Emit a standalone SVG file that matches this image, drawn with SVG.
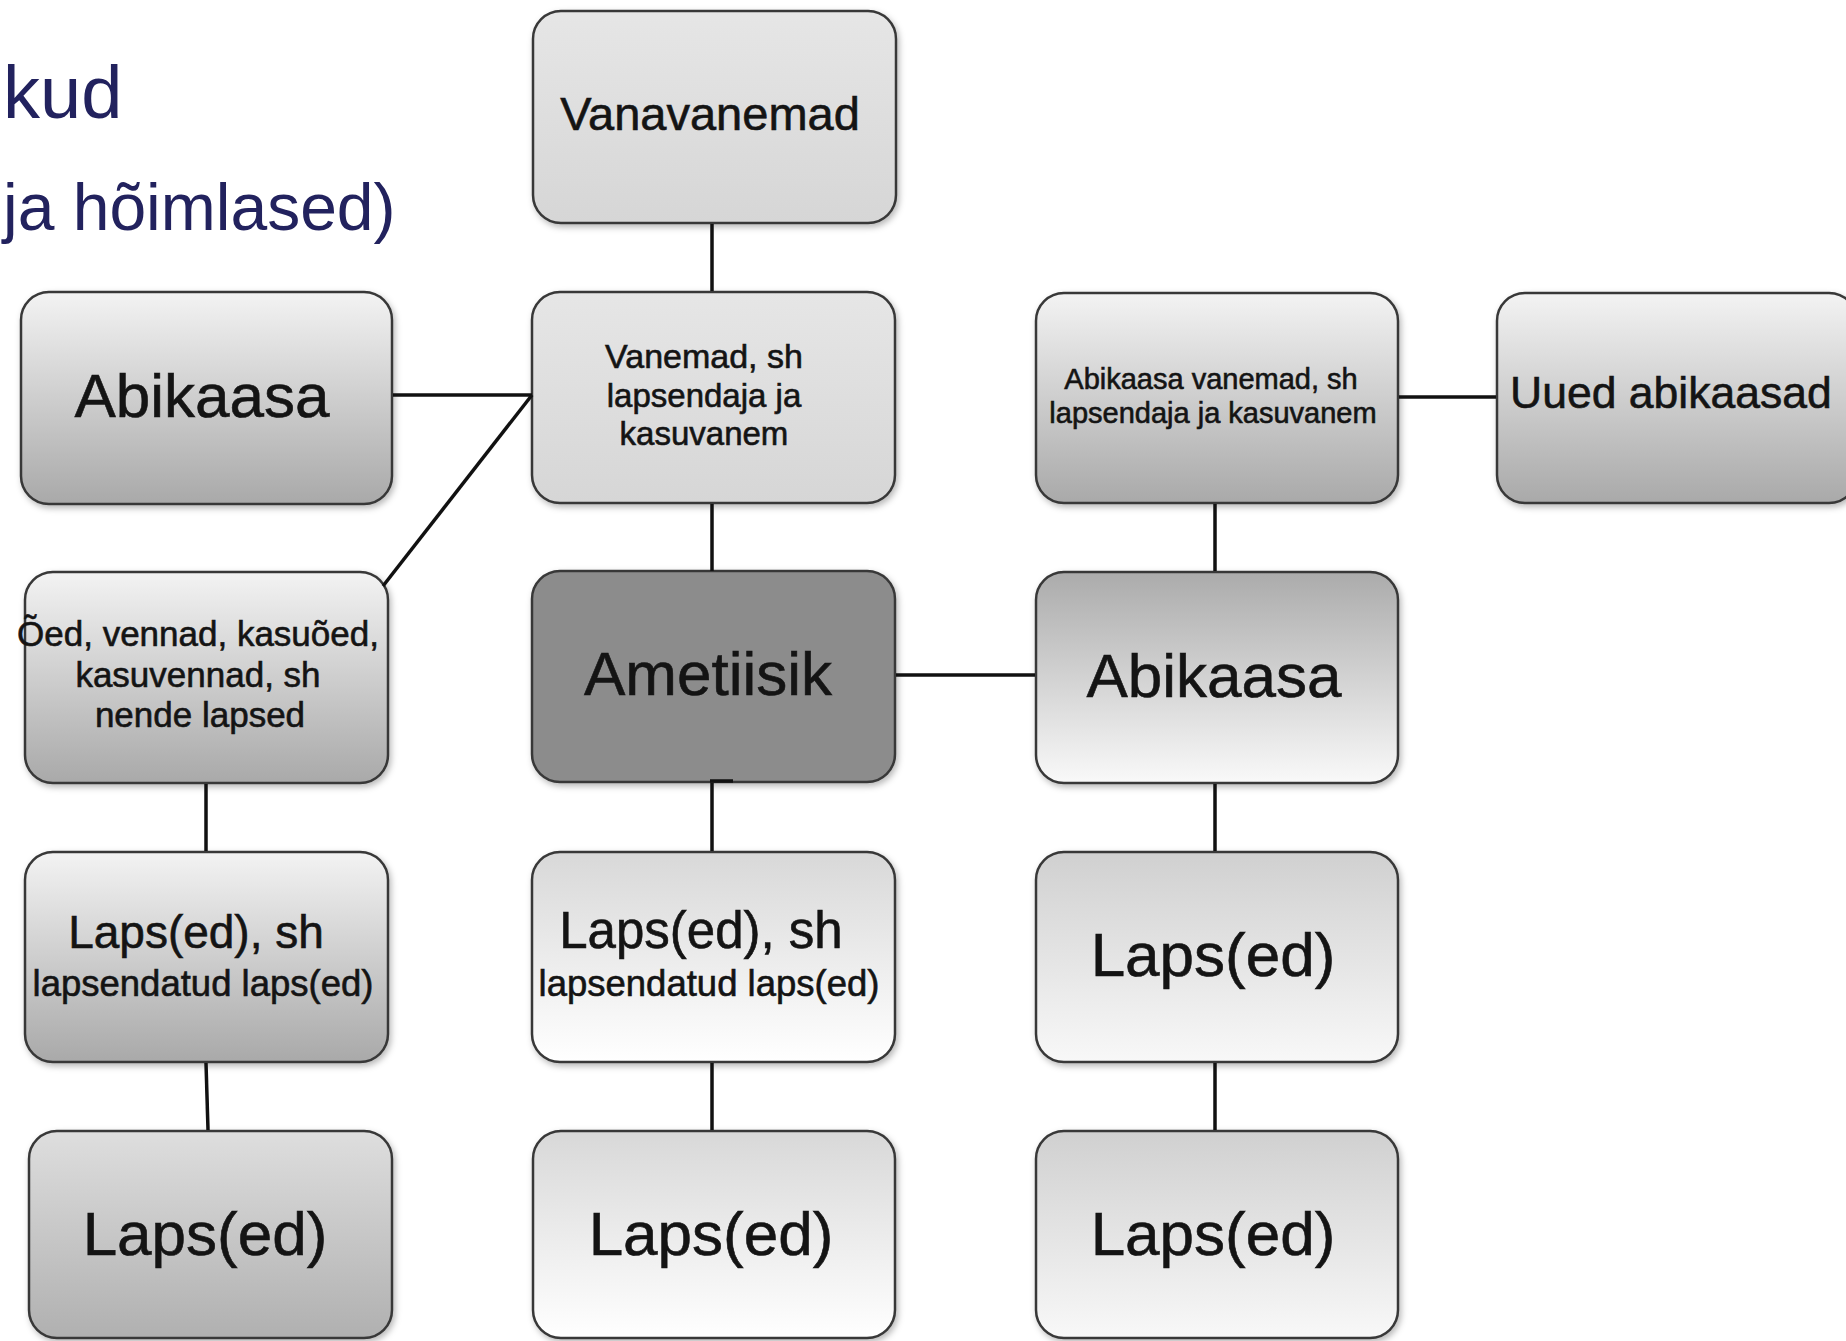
<svg xmlns="http://www.w3.org/2000/svg" width="1846" height="1341" viewBox="0 0 1846 1341">
<defs>
  <linearGradient id="gLight" x1="0" y1="0" x2="0" y2="1">
    <stop offset="0" stop-color="#e6e6e6"/><stop offset="1" stop-color="#d6d6d6"/>
  </linearGradient>
  <linearGradient id="gDown" x1="0" y1="0" x2="0" y2="1">
    <stop offset="0" stop-color="#f3f3f3"/><stop offset="1" stop-color="#a9a9a9"/>
  </linearGradient>
  <linearGradient id="gDown2" x1="0" y1="0" x2="0" y2="1">
    <stop offset="0" stop-color="#dedede"/><stop offset="1" stop-color="#b0b0b0"/>
  </linearGradient>
  <linearGradient id="gUp" x1="0" y1="0" x2="0" y2="1">
    <stop offset="0" stop-color="#ababab"/><stop offset="1" stop-color="#f9f9f9"/>
  </linearGradient>
  <linearGradient id="gUpSoft" x1="0" y1="0" x2="0" y2="1">
    <stop offset="0" stop-color="#d0d0d0"/><stop offset="1" stop-color="#f8f8f8"/>
  </linearGradient>
  <linearGradient id="gUpWhite" x1="0" y1="0" x2="0" y2="1">
    <stop offset="0" stop-color="#d8d8d8"/><stop offset="1" stop-color="#ffffff"/>
  </linearGradient>
  <filter id="sh" x="-5%" y="-5%" width="112%" height="115%">
    <feDropShadow dx="2" dy="3" stdDeviation="3" flood-color="#000" flood-opacity="0.28"/>
  </filter>
</defs>
<style>
  .box { stroke: #383838; stroke-width: 2.5; filter: url(#sh); }
  .t { font-family: "Liberation Sans", Arial, sans-serif; fill: #141414; stroke: #141414; stroke-width: 0.6; text-anchor: middle; }
  .title { font-family: "Liberation Sans", Arial, sans-serif; fill: #22225e; }
  .ln { stroke: #111; stroke-width: 3.5; fill: none; }
</style>
<rect width="1846" height="1341" fill="#ffffff"/>

<g id="title">
  <text class="title" x="3" y="118" font-size="74">kud</text>
  <text class="title" x="3" y="230" font-size="66">ja hõimlased)</text>
</g>

<g id="vanavanemad">
  <rect class="box" x="533" y="11" width="363" height="212" rx="28" fill="url(#gLight)"/>
  <text class="t" x="710" y="130" font-size="47">Vanavanemad</text>
</g>

<g id="vanemad">
  <rect class="box" x="532" y="292" width="363" height="211" rx="28" fill="url(#gLight)"/>
  <text class="t" x="704" y="368" font-size="34">Vanemad, sh</text>
  <text class="t" x="704" y="407" font-size="33">lapsendaja ja</text>
  <text class="t" x="704" y="445" font-size="33">kasuvanem</text>
</g>

<g id="abikaasa-left">
  <rect class="box" x="21" y="292" width="371" height="212" rx="28" fill="url(#gDown)"/>
  <text class="t" x="202" y="417" font-size="62">Abikaasa</text>
</g>

<g id="oed">
  <rect class="box" x="25" y="572" width="363" height="211" rx="28" fill="url(#gDown)"/>
  <text class="t" x="198" y="646" font-size="35">Õed, vennad, kasuõed,</text>
  <text class="t" x="198" y="687" font-size="35">kasuvennad, sh</text>
  <text class="t" x="200" y="727" font-size="35">nende lapsed</text>
</g>

<g id="laps-sh-left">
  <rect class="box" x="25" y="852" width="363" height="210" rx="28" fill="url(#gDown)"/>
  <text class="t" x="196" y="948" font-size="46">Laps(ed), sh</text>
  <text class="t" x="203" y="996" font-size="36.5">lapsendatud laps(ed)</text>
</g>

<g id="laps-left-bottom">
  <rect class="box" x="29" y="1131" width="363" height="207" rx="28" fill="url(#gDown2)"/>
  <text class="t" x="205" y="1255" font-size="62">Laps(ed)</text>
</g>

<g id="ametiisik">
  <rect class="box" x="532" y="571" width="363" height="211" rx="28" fill="#8c8c8c"/>
  <text class="t" x="708" y="695" font-size="62">Ametiisik</text>
</g>

<g id="laps-sh-center">
  <rect class="box" x="532" y="852" width="363" height="210" rx="28" fill="url(#gUpWhite)"/>
  <text class="t" x="701" y="948" font-size="51">Laps(ed), sh</text>
  <text class="t" x="709" y="996" font-size="36.5">lapsendatud laps(ed)</text>
</g>

<g id="laps-center-bottom">
  <rect class="box" x="533" y="1131" width="362" height="207" rx="28" fill="url(#gUpWhite)"/>
  <text class="t" x="711" y="1255" font-size="62">Laps(ed)</text>
</g>

<g id="abikaasa-vanemad">
  <rect class="box" x="1036" y="293" width="362" height="210" rx="28" fill="url(#gDown)"/>
  <text class="t" x="1211" y="389" font-size="29">Abikaasa vanemad, sh</text>
  <text class="t" x="1213" y="423" font-size="29">lapsendaja ja kasuvanem</text>
</g>

<g id="uued-abikaasad">
  <rect class="box" x="1497" y="293" width="360" height="210" rx="28" fill="url(#gDown)"/>
  <text class="t" x="1510" y="408" font-size="44.5" style="text-anchor:start">Uued abikaasad</text>
</g>

<g id="abikaasa-right">
  <rect class="box" x="1036" y="572" width="362" height="211" rx="28" fill="url(#gUp)"/>
  <text class="t" x="1214" y="697" font-size="62">Abikaasa</text>
</g>

<g id="laps-right">
  <rect class="box" x="1036" y="852" width="362" height="210" rx="28" fill="url(#gUpSoft)"/>
  <text class="t" x="1213" y="976" font-size="62">Laps(ed)</text>
</g>

<g id="laps-right-bottom">
  <rect class="box" x="1036" y="1131" width="362" height="207" rx="28" fill="url(#gUpSoft)"/>
  <text class="t" x="1213" y="1255" font-size="62">Laps(ed)</text>
</g>

<g id="connectors">
  <line class="ln" x1="712" y1="224" x2="712" y2="291"/>
  <line class="ln" x1="712" y1="504" x2="712" y2="571"/>
  <line class="ln" x1="712" y1="783" x2="712" y2="851"/>
  <line class="ln" x1="710" y1="781" x2="733" y2="781"/>
  <line class="ln" x1="712" y1="1063" x2="712" y2="1130"/>
  <line class="ln" x1="393" y1="395" x2="532" y2="395"/>
  <line class="ln" x1="532" y1="395" x2="383" y2="586"/>
  <line class="ln" x1="206" y1="784" x2="206" y2="851"/>
  <line class="ln" x1="206" y1="1063" x2="208" y2="1130"/>
  <line class="ln" x1="896" y1="675" x2="1035" y2="675"/>
  <line class="ln" x1="1215" y1="504" x2="1215" y2="571"/>
  <line class="ln" x1="1215" y1="784" x2="1215" y2="851"/>
  <line class="ln" x1="1215" y1="1063" x2="1215" y2="1130"/>
  <line class="ln" x1="1399" y1="397" x2="1496" y2="397"/>
</g>
</svg>
